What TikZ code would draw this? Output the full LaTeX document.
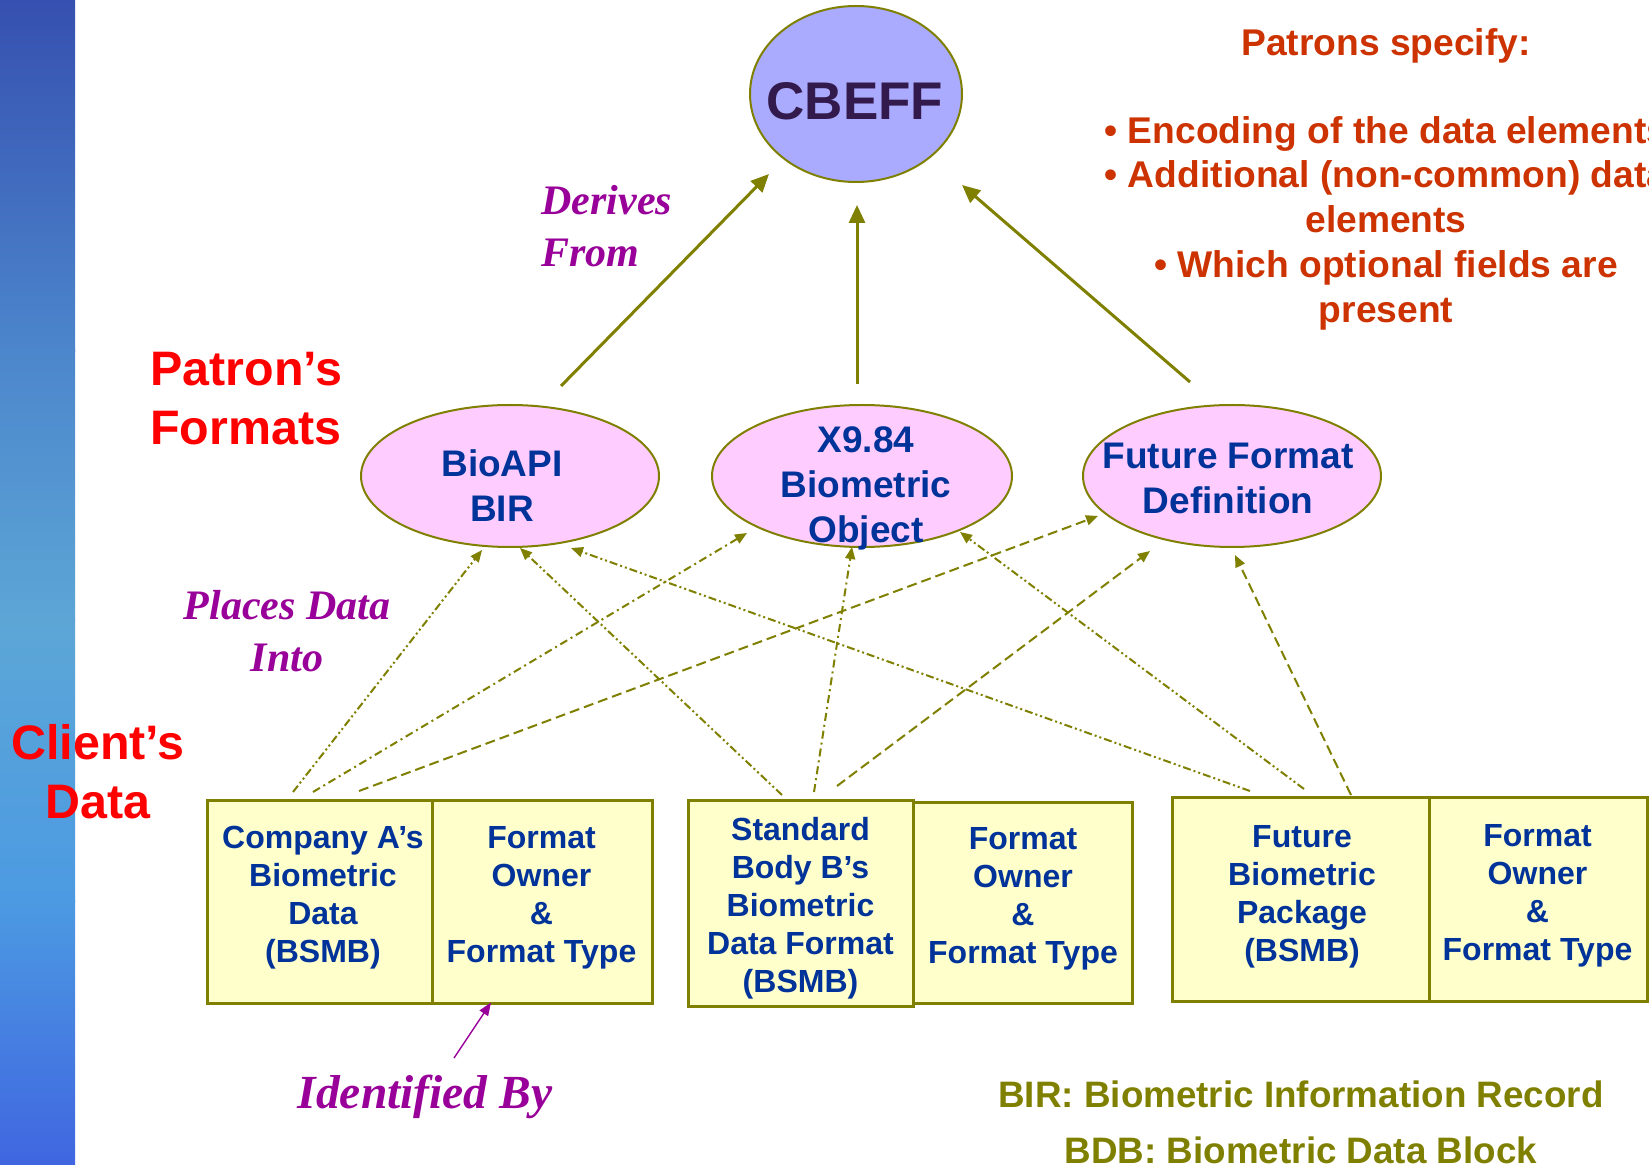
\documentclass[tikz,border=0pt]{standalone}
\usepackage{fontspec}
\setmainfont{Liberation Sans}
\newfontfamily\seriffam{Liberation Serif}
\usetikzlibrary{shapes.geometric,arrows.meta,calc}
\definecolor{olivec}{HTML}{808000}
\definecolor{lav}{HTML}{AAAAFF}
\definecolor{pinkf}{HTML}{FFCCFF}
\definecolor{yel}{HTML}{FFFFCC}
\definecolor{dblue}{HTML}{003399}
\definecolor{purp}{HTML}{990099}
\definecolor{orng}{HTML}{CC3300}
\definecolor{cbtext}{HTML}{331A4D}
\definecolor{redc}{HTML}{FF0000}
\definecolor{sa}{HTML}{3650B0}
\definecolor{sb}{HTML}{4C86CC}
\definecolor{sc}{HTML}{5CA6D6}
\definecolor{sd}{HTML}{4C9AE2}
\definecolor{se}{HTML}{4066E0}
\tikzset{
  ell/.style={ellipse, draw=olivec, line width=1pt, fill=pinkf, inner sep=0pt,
    minimum width=149pt, minimum height=71pt},
  cellbox/.style={rectangle, draw=olivec, line width=1.5pt, fill=yel, inner sep=0pt},
  boxtxt/.style={font=\fontsize{16}{19}\selectfont\bfseries, text=dblue, align=center, inner sep=0pt},
  elltxt/.style={font=\fontsize{18.5}{22.5}\selectfont\bfseries, text=dblue, align=center, inner sep=0pt},
  bigred/.style={font=\fontsize{24.2}{29.5}\selectfont\bfseries, text=redc, inner sep=0pt},
  purpit/.style={font=\seriffam\fontsize{21}{26}\selectfont\bfseries\itshape, text=purp, inner sep=0pt},
  orngtxt/.style={font=\fontsize{18.6}{22.4}\selectfont\bfseries, text=orng, align=center, inner sep=0pt},
  legtxt/.style={font=\fontsize{18.4}{28}\selectfont\bfseries, text=olivec, align=center, inner sep=0pt},
  derive/.style={draw=olivec, line width=1.5pt, -{Triangle[length=9pt,width=8pt]}},
  thinarr/.style={draw=olivec, line width=1pt, -{Triangle[length=6pt,width=5pt]}},
  ddd/.style={thinarr, dash pattern=on 4pt off 1.5pt on 1pt off 1.5pt on 1pt off 1.5pt},
  ddot/.style={thinarr, dash pattern=on 4pt off 2pt on 1pt off 2pt},
  dsh/.style={thinarr, dash pattern=on 5pt off 2.5pt},
  idarr/.style={draw=purp, line width=0.7pt, -{Triangle[length=6.5pt,width=5pt]}}
}
\begin{document}
\begin{tikzpicture}[x=0.5pt,y=-0.5pt]
\useasboundingbox (0,0) rectangle (1649,1165);
\clip (0,0) rectangle (1649,1165);
\fill[white] (0,0) rectangle (1649,1165);
% left decorative strip
\shade[top color=sa, bottom color=sb] (0,0) rectangle (75,352);
\shade[top color=sb, bottom color=sc] (0,350) rectangle (75,622);
\shade[top color=sc, bottom color=sd] (0,620) rectangle (75,902);
\shade[top color=sd, bottom color=se] (0,900) rectangle (75,1165);

% CBEFF
\node[ell, fill=lav, minimum width=106pt, minimum height=88pt] (cbeff) at (856,94) {};
\node[font=\fontsize{26.5}{30}\selectfont\bfseries, text=cbtext, inner sep=0pt] (cbefft) at (855,101) {CBEFF};

% patron formats
\node[ell] (bio) at (510,476) {};
\node[ell, minimum width=150pt] (x984) at (862,476) {};
\node[ell] (fut) at (1232,476) {};
\node[elltxt] (biot) at (502,486) {BioAPI\\BIR};
\node[elltxt] (x984t) at (866,488) {X9.84\\Biometric\\Object};
\node[elltxt] (futt) at (1228,478) {Future Format\\Definition};

% client boxes
\node[cellbox, minimum width=112.5pt, minimum height=101.5pt] (bA) at (319.5,901.5) {};
\node[cellbox, minimum width=110pt, minimum height=101.5pt] (fA) at (542,901.5) {};
\node[cellbox, minimum width=112.5pt, minimum height=103pt] (bB) at (800.5,903) {};
\node[cellbox, minimum width=109.5pt, minimum height=100.5pt] (fB) at (1022.5,902.5) {};
\node[cellbox, minimum width=128.5pt, minimum height=102pt] (bC) at (1300.5,899.5) {};
\node[cellbox, minimum width=109pt, minimum height=102pt] (fC) at (1538,899.5) {};
\node[boxtxt] (bAt) at (323,897.5) {Company A’s\\Biometric\\Data\\(BSMB)};
\node[boxtxt] (fAt) at (541.5,897.5) {Format\\Owner\\\&\\Format Type};
\node[boxtxt] (bBt) at (800.5,908) {Standard\\Body B’s\\Biometric\\Data Format\\(BSMB)};
\node[boxtxt] (fBt) at (1023,898.5) {Format\\Owner\\\&\\Format Type};
\node[boxtxt] (bCt) at (1302,896.5) {Future\\Biometric\\Package\\(BSMB)};
\node[boxtxt] (fCt) at (1537.5,895.5) {Format\\Owner\\\&\\Format Type};

% derives-from arrows
\draw[derive] ($(bio)+(51,-90)$) -- ($(cbeff)+(-87,80)$);
\draw[derive] ($(x984)+(-5,-92)$) -- ($(cbeff)+(1,111)$);
\draw[derive] ($(fut)+(-42,-94)$) -- ($(cbeff)+(106,91)$);

% places-data-into arrows
\draw[ddd]  ($(bA)+(-26.5,-109.5)$) -- ($(bio)+(-28,74)$);
\draw[ddot] ($(bA)+(-6.5,-109.5)$) -- ($(x984)+(-115,57)$);
\draw[dsh]  ($(bA)+(39.5,-110.5)$) -- ($(fut)+(-134,40)$);
\draw[ddd]  ($(bB)+(-18.5,-108)$) -- ($(bio)+(10,72)$);
\draw[ddot] ($(bB)+(13.5,-111)$) -- ($(x984)+(-10,71)$);
\draw[dsh]  ($(bB)+(36.5,-117)$) -- ($(fut)+(-82,75)$);
\draw[ddd]  ($(bC)+(-50.5,-108.5)$) -- ($(bio)+(61,72)$);
\draw[ddd]  ($(bC)+(3.5,-110.5)$) -- ($(x984)+(98,56)$);
\draw[dsh]  ($(bC)+(50.5,-104.5)$) -- ($(fut)+(3,79)$);

% labels
\node[bigred, anchor=west, align=left] (patron) at (150,399) {Patron’s\\Formats};
\node[bigred, align=center] (client) at (98,771.5) {Client’s\\Data};
\node[purpit, anchor=west, align=left] (derives) at (541,226) {Derives\\From};
\node[purpit, align=center] (places) at (287,631) {Places Data\\Into};
\node[purpit, font=\seriffam\fontsize{23.75}{28}\selectfont\bfseries\itshape] (ident) at (425,1097) {Identified By};
\coordinate (idtail) at (454,1058);
\draw[idarr] (idtail) -- ($(fA.south)+(-51,-2)$);

% patrons specify
\node[orngtxt] (spec) at (1386,46) {Patrons specify:};
\node[orngtxt] (bullets) at (1386,223) {• Encoding of the data elements\\• Additional (non-common) data\\elements\\• Which optional fields are\\present};

% legend
\node[legtxt] (legend) at (1301,1122) {BIR: Biometric Information Record\\BDB: Biometric Data Block};
\end{tikzpicture}
\end{document}
